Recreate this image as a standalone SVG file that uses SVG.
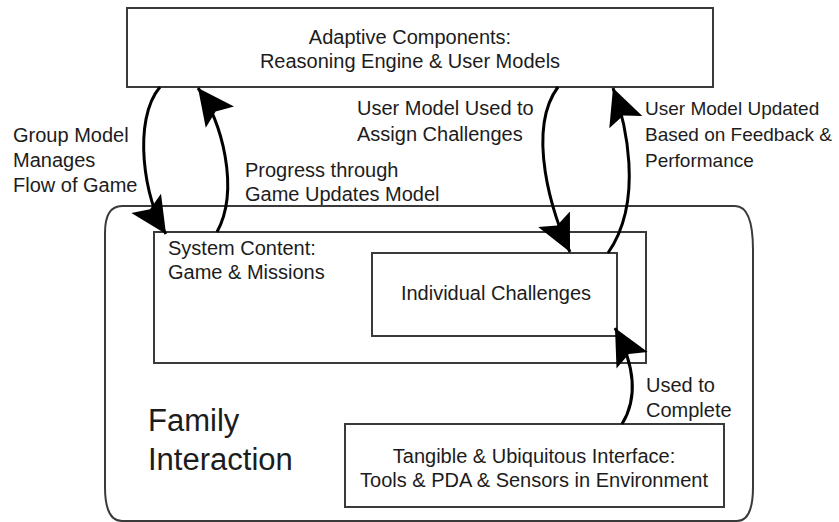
<svg xmlns="http://www.w3.org/2000/svg" width="839" height="522" viewBox="0 0 839 522">
  <defs>
    <style>
      .box { fill: #ffffff; stroke: #3a3a3a; stroke-width: 2; }
      .frame { fill: none; stroke: #3a3a3a; stroke-width: 2; }
      .label { font-family: "Liberation Sans", Arial, sans-serif; font-size: 20px; fill: #1c1c1c; }
      .narrow { font-size: 19px; }
      .mid { text-anchor: middle; }
      .big { font-family: "Liberation Sans", Arial, sans-serif; font-size: 31px; fill: #1c1c1c; }
      .flow { fill: none; stroke: #000000; stroke-width: 3; marker-end: url(#head); }
    </style>
    <marker id="head" markerUnits="userSpaceOnUse" markerWidth="40" markerHeight="40" viewBox="-32 -17 34 34" refX="0" refY="0" orient="auto">
      <path d="M0,0 L-31,-15 L-25,0 L-31,15 Z" fill="#000000"/>
    </marker>
  </defs>

  <rect width="839" height="522" fill="#ffffff"/>

  <!-- outer family interaction boundary -->
  <g id="family-interaction">
    <path class="frame" d="M122,206 H735 Q753,206 753,250 V487 Q753,521 737,521 H122 Q105,521 105,487 V233 Q105,206 122,206 Z"/>
    <text class="big" x="148" y="431">Family</text>
    <text class="big" x="148" y="470">Interaction</text>
  </g>

  <g id="adaptive-components">
    <rect class="box" x="127" y="8" width="586" height="79"/>
    <text class="label mid" x="410" y="44">Adaptive Components:</text>
    <text class="label mid" x="410" y="68">Reasoning Engine &amp; User Models</text>
  </g>

  <g id="system-content">
    <rect class="box" x="154" y="232" width="492" height="131"/>
    <text class="label" x="168" y="255">System Content:</text>
    <text class="label" x="168" y="279">Game &amp; Missions</text>
  </g>

  <g id="individual-challenges">
    <rect class="box" x="372" y="253" width="245" height="83"/>
    <text class="label mid" x="496" y="300">Individual Challenges</text>
  </g>

  <g id="tangible-interface">
    <rect class="box" x="345" y="424" width="379" height="83"/>
    <text class="label mid" x="534" y="463">Tangible &amp; Ubiquitous Interface:</text>
    <text class="label mid" x="534" y="487">Tools &amp; PDA &amp; Sensors in Environment</text>
  </g>

  <g id="connectors">
    <path class="flow" d="M160,87 C132,120 144,200 166,234"/>
    <path class="flow" d="M217,232 C240,190 222,120 198,88"/>
    <path class="flow" d="M558,87 C526,130 552,215 570,252"/>
    <path class="flow" d="M608,253 C645,200 625,120 613,88"/>
    <path class="flow" d="M622,424 C640,395 632,360 615,328"/>
  </g>

  <g id="connector-labels">
    <text class="label" x="13" y="142">Group Model</text>
    <text class="label" x="13" y="167">Manages</text>
    <text class="label" x="13" y="192">Flow of Game</text>
    <text class="label" x="245" y="177">Progress through</text>
    <text class="label" x="245" y="201">Game Updates Model</text>
    <text class="label" x="357" y="115">User Model Used to</text>
    <text class="label" x="357" y="141">Assign Challenges</text>
    <text class="label narrow" x="645" y="115">User Model Updated</text>
    <text class="label narrow" x="645" y="141">Based on Feedback &amp;</text>
    <text class="label narrow" x="645" y="167">Performance</text>
    <text class="label" x="646" y="392">Used to</text>
    <text class="label" x="646" y="417">Complete</text>
  </g>
</svg>
